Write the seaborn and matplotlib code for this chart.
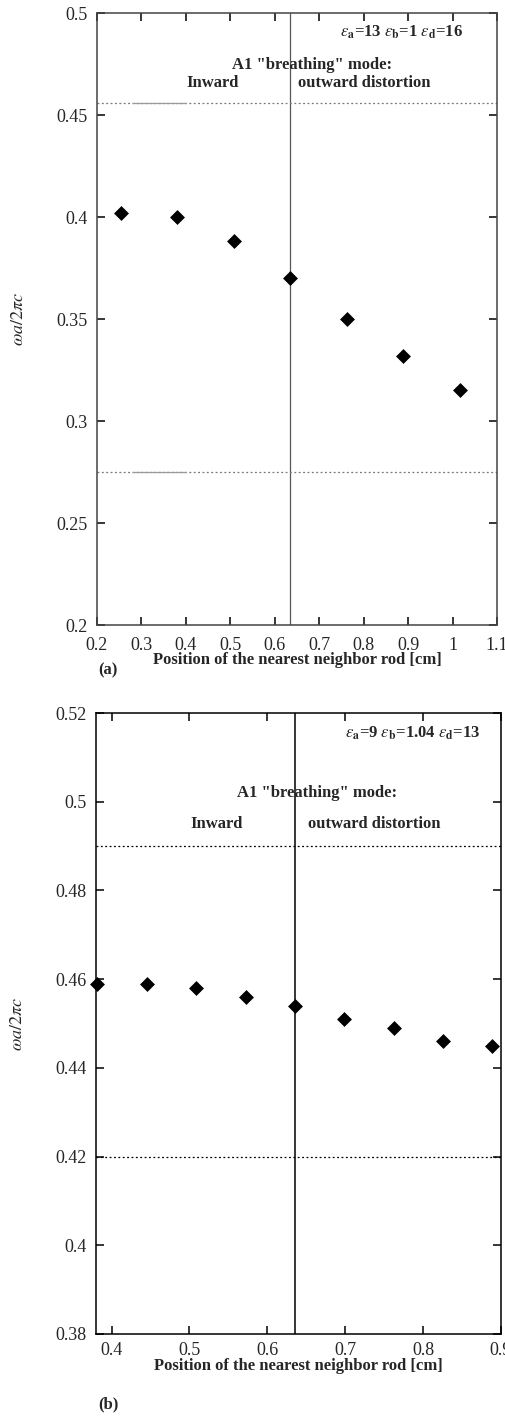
import matplotlib
matplotlib.use("Agg")
import matplotlib.pyplot as plt
import seaborn as sns
import pandas as pd

# ---- data ----
pos_a = [0.254, 0.381, 0.508, 0.635, 0.762, 0.889, 1.016]
freq_a = [0.402, 0.400, 0.388, 0.370, 0.350, 0.332, 0.315]
band_a = [0.456, 0.275]
split_a = 0.635
xticks_a = [0.2, 0.3, 0.4, 0.5, 0.6, 0.7, 0.8, 0.9, 1.0, 1.1]
xticklabels_a = ["0.2", "0.3", "0.4", "0.5", "0.6", "0.7", "0.8", "0.9", "1", "1.1"]
yticks_a = [0.2, 0.25, 0.3, 0.35, 0.4, 0.45, 0.5]
yticklabels_a = ["0.2", "0.25", "0.3", "0.35", "0.4", "0.45", "0.5"]

pos_b = [0.381, 0.445, 0.508, 0.572, 0.635, 0.699, 0.762, 0.826, 0.889]
freq_b = [0.459, 0.459, 0.458, 0.456, 0.454, 0.451, 0.449, 0.446, 0.445]
band_b = [0.490, 0.420]
split_b = 0.635
xticks_b = [0.4, 0.5, 0.6, 0.7, 0.8, 0.9]
xticklabels_b = ["0.4", "0.5", "0.6", "0.7", "0.8", "0.9"]
yticks_b = [0.38, 0.40, 0.42, 0.44, 0.46, 0.48, 0.50, 0.52]
yticklabels_b = ["0.38", "0.4", "0.42", "0.44", "0.46", "0.48", "0.5", "0.52"]

xlabel = "Position of the nearest neighbor rod [cm]"
ylabel = r"$\omega a/2\pi c$"
mode_title = 'A1 "breathing" mode:'
left_txt = "Inward"
right_txt = "outward distortion"
eps_a = r"$\epsilon_\mathbf{a}$=13 $\epsilon_\mathbf{b}$=1 $\epsilon_\mathbf{d}$=16"
eps_b = r"$\epsilon_\mathbf{a}$=9 $\epsilon_\mathbf{b}$=1.04 $\epsilon_\mathbf{d}$=13"

sns.set_theme(style="ticks")
plt.rcParams["font.family"] = ["Liberation Serif", "DejaVu Serif"]
plt.rcParams["mathtext.fontset"] = "stix"
plt.rcParams["xtick.direction"] = "in"
plt.rcParams["ytick.direction"] = "in"

W, H = 506, 1416
fig = plt.figure(figsize=(W / 100, H / 100), dpi=100)
fig.patch.set_facecolor("white")

FS = 12  # annotation / label font size
TS = 13  # tick label font size

def px_axes(l, t, r, b):
    return fig.add_axes([l / W, 1 - b / H, (r - l) / W, (b - t) / H])

def style(ax, color, xt, xtl, yt, ytl, xlim, ylim, xpad):
    ax.set_facecolor("white")
    ax.set_xlim(*xlim)
    ax.set_ylim(*ylim)
    ax.set_xticks(xt)
    ax.set_xticklabels(xtl)
    ax.set_yticks(yt)
    ax.set_yticklabels(ytl)
    ax.tick_params(axis="both", which="major", direction="in", length=6, width=1.1,
                   top=True, right=True, labelsize=TS, color="black")
    ax.tick_params(axis="x", pad=xpad)
    ax.tick_params(axis="y", pad=7)
    for s in ax.spines.values():
        s.set_visible(True)
        s.set_color(color)
        s.set_linewidth(1.1)
    ax.set_ylabel(ylabel, fontsize=13, labelpad=21)

# ---- panel (a) ----
axa = px_axes(97, 13, 497, 625)
dfa = pd.DataFrame({"x": pos_a, "y": freq_a})
axa.axvline(split_a, color="#555555", lw=0.9, zorder=1)
for yb in band_a:
    axa.axhline(yb, color="#777777", lw=0.9, ls=(0, (1.5, 2)), zorder=1)
    axa.plot([0.28, 0.40], [yb, yb], color="#999999", lw=0.9, zorder=1)
sns.scatterplot(data=dfa, x="x", y="y", marker="D", s=50, color="black",
                edgecolor="black", linewidth=0.5, ax=axa, zorder=3, legend=False)
style(axa, "#444444", xticks_a, xticklabels_a, yticks_a, yticklabels_a, (0.2, 1.1), (0.2, 0.5), 9)
axa.set_xlabel(xlabel, fontsize=FS, fontweight="bold", labelpad=-2)
axa.text(0.747, 0.4907, eps_a, fontsize=FS, fontweight="bold", va="center", ha="left")
axa.text(0.684, 0.4745, mode_title, fontsize=FS, fontweight="bold", va="center", ha="center")
axa.text(0.461, 0.4657, left_txt, fontsize=FS, fontweight="bold", va="center", ha="center")
axa.text(0.8007, 0.4657, right_txt, fontsize=FS, fontweight="bold", va="center", ha="center")
fig.text(108 / W, 1 - 670 / H, "(a)", fontsize=FS, fontweight="bold", ha="center", va="center")

# ---- panel (b) ----
axb = px_axes(96, 713, 501, 1334)
dfb = pd.DataFrame({"x": pos_b, "y": freq_b})
axb.axvline(split_b, color="black", lw=1.1, zorder=1)
for yb in band_b:
    axb.axhline(yb, color="black", lw=0.9, ls=(0, (1.5, 2)), zorder=1)
sns.scatterplot(data=dfb, x="x", y="y", marker="D", s=50, color="black",
                edgecolor="black", linewidth=0.5, ax=axb, zorder=3, legend=False,
                clip_on=False)
style(axb, "black", xticks_b, xticklabels_b, yticks_b, yticklabels_b, (0.38, 0.9), (0.38, 0.52), 6)
axb.set_xlabel(xlabel, fontsize=FS, fontweight="bold", labelpad=-1)
axb.text(0.6997, 0.5155, eps_b, fontsize=FS, fontweight="bold", va="center", ha="left")
axb.text(0.6644, 0.5020, mode_title, fontsize=FS, fontweight="bold", va="center", ha="center")
axb.text(0.5347, 0.4950, left_txt, fontsize=FS, fontweight="bold", va="center", ha="center")
axb.text(0.7376, 0.4950, right_txt, fontsize=FS, fontweight="bold", va="center", ha="center")
fig.text(108 / W, 1 - 1404 / H, "(b)", fontsize=FS, fontweight="bold", ha="center", va="center")

fig.savefig("out.png", dpi=100, facecolor="white")
